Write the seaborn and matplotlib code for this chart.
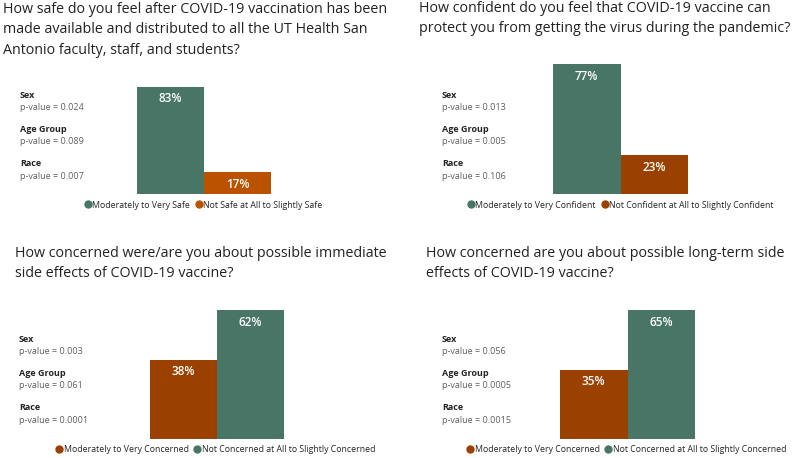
import matplotlib
matplotlib.use("Agg")
import matplotlib.pyplot as plt
import seaborn as sns
from matplotlib.lines import Line2D

sns.set_style("white")
plt.rcParams['font.family'] = ['Open Sans', 'DejaVu Sans']

green = "#487565"
orange_bright = "#bb5200"
orange_dark = "#9a4100"

# data
titles = [
    "How safe do you feel after COVID-19 vaccination has been\nmade available and distributed to all the UT Health San\nAntonio faculty, staff, and students?",
    "How confident do you feel that COVID-19 vaccine can\nprotect you from getting the virus during the pandemic?",
    "How concerned were/are you about possible immediate\nside effects of COVID-19 vaccine?",
    "How concerned are you about possible long-term side\neffects of COVID-19 vaccine?",
]
q1_cats = ["Moderately to Very Safe", "Not Safe at All to Slightly Safe"]
q1_vals = [83, 17]
q2_cats = ["Moderately to Very Confident", "Not Confident at All to Slightly Confident"]
q2_vals = [77, 23]
q3_cats = ["Moderately to Very Concerned", "Not Concerned at All to Slightly Concerned"]
q3_vals = [38, 62]
q4_cats = ["Moderately to Very Concerned", "Not Concerned at All to Slightly Concerned"]
q4_vals = [35, 65]
factors = ["Sex", "Age Group", "Race"]
q1_p = ["0.024", "0.089", "0.007"]
q2_p = ["0.013", "0.005", "0.106"]
q3_p = ["0.003", "0.061", "0.0001"]
q4_p = ["0.056", "0.0005", "0.0015"]

W, H = 800, 458
fig = plt.figure(figsize=(8, 4.58), dpi=100)

panels = [
    # cats, vals, pvals, colours, title xy, bar box (left, top, right, bottom), factor x, factor y0, legend center
    (q1_cats, q1_vals, q1_p, [green, orange_bright], (3, 2), (137, 87, 271, 194), 20, 95, (203, 205)),
    (q2_cats, q2_vals, q2_p, [green, orange_dark], (419, 1), (553, 64, 688, 194), 442, 95, (620, 205)),
    (q3_cats, q3_vals, q3_p, [orange_dark, green], (15, 246), (150, 310, 284, 439), 19, 339, (215, 450)),
    (q4_cats, q4_vals, q4_p, [orange_dark, green], (426, 246), (560, 310, 695, 439), 442, 339, (626, 450)),
]

for i, (cats, vals, pv, cols, txy, box, fx, fy, lc) in enumerate(panels):
    fig.text(txy[0] / W, 1 - txy[1] / H, titles[i], fontsize=10.3, color="#222222",
             va="top", ha="left", linespacing=1.48)

    l, t, r, b = box
    ax = fig.add_axes([l / W, 1 - b / H, (r - l) / W, (b - t) / H])
    sns.barplot(x=cats, y=vals, hue=cats, palette=cols, width=1.0, ax=ax,
                legend=False, saturation=1, linewidth=0)
    ax.set_xlim(-0.5, 1.5)
    ax.set_ylim(0, max(vals))
    ax.axis("off")
    for j, v in enumerate(vals):
        ax.annotate(f"{v}%", (j, v), xytext=(0, -12), textcoords="offset pixels",
                    ha="center", va="center", color="white", fontsize=8.5,
                    fontweight="semibold")

    for k, f in enumerate(factors):
        y = fy + k * 34.5
        fig.text(fx / W, 1 - y / H, f, fontsize=6.5, fontweight="bold",
                 color="#252423", va="center", ha="left")
        fig.text(fx / W, 1 - (y + 12.5) / H, f"p-value = {pv[k]}", fontsize=6.5,
                 color="#605e5c", va="center", ha="left")

    handles = [Line2D([], [], marker="o", linestyle="", color=c, markersize=5)
               for c in cols]
    fig.legend(handles, cats, loc="center", bbox_to_anchor=(lc[0] / W, 1 - lc[1] / H),
               ncol=2, frameon=False, fontsize=6.3, handletextpad=0.0,
               columnspacing=0.5, handlelength=1.0, labelcolor="#252423",
               borderpad=0, borderaxespad=0)

fig.savefig("out.png", dpi=100)
